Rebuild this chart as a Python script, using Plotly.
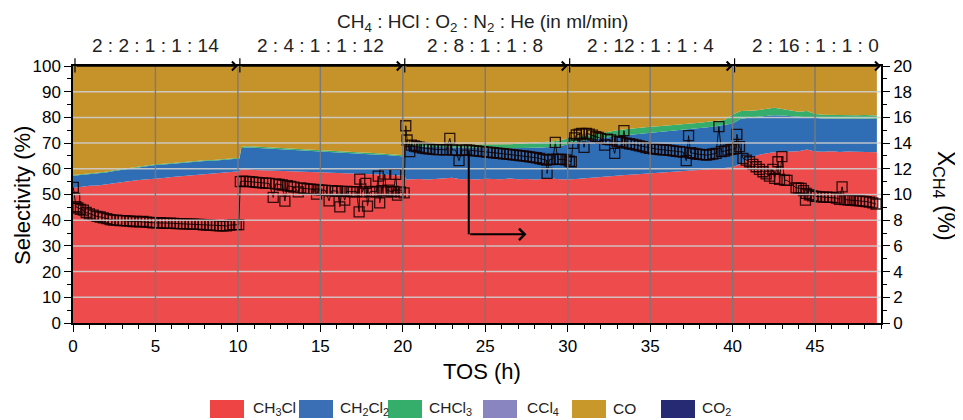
import plotly.graph_objects as go

# ---------------- data ----------------
t_area = [0.0, 0.5, 1.0, 1.5, 2.0, 2.5, 3.0, 3.5, 4.0, 4.5, 5.0, 5.5, 6.0, 6.5, 7.0, 7.5, 8.0, 8.5, 9.0, 9.5, 10.1,
          10.2, 10.5, 11.0, 11.5, 12.0, 12.5, 13.0, 13.5, 14.0, 14.5, 15.0, 15.5, 16.0, 16.5, 17.0, 17.5, 18.0, 18.5, 19.0, 19.5, 20.1,
          20.2, 20.5, 21.0, 21.5, 22.0, 22.5, 23.0, 23.5, 24.0, 24.5, 25.0, 25.5, 26.0, 26.5, 27.0, 27.5, 28.0, 28.5, 29.0, 29.5, 30.0,
          30.5, 31.0, 31.5, 32.0, 32.5, 33.0, 33.5, 34.0, 34.5, 35.0, 35.5, 36.0, 36.5, 37.0, 37.5, 38.0, 38.5, 39.0, 39.5, 40.0,
          40.5, 41.0, 41.5, 42.0, 42.5, 43.0, 43.5, 44.0, 44.5, 45.0, 45.5, 46.0, 46.5, 47.0, 47.5, 48.0, 48.5, 48.75]

sel_ch3cl = [52.5, 53.0, 53.4, 53.5, 54.0, 54.5, 55.0, 55.3, 55.6, 55.8, 56.1, 56.4, 56.8, 57.1, 57.3, 57.6, 57.9, 58.2, 58.5, 58.7, 59.0,
             59.8, 59.6, 59.5, 59.4, 59.3, 59.2, 59.1, 59.0, 58.9, 58.8, 58.7, 58.6, 58.5, 58.4, 58.3, 58.1, 58.0, 57.8, 57.7, 57.5, 57.3,
             55.8, 55.9, 56.0, 55.8, 56.0, 56.1, 56.5, 55.9, 56.0, 55.8, 56.1, 56.0, 55.9, 56.2, 55.9, 56.0, 55.8, 56.0, 56.2, 55.9, 55.8,
             56.0, 56.3, 56.5, 56.8, 57.0, 57.3, 57.6, 57.8, 58.0, 58.2, 58.5, 58.7, 58.9, 59.1, 59.3, 59.6, 59.8, 60.0, 60.3, 60.6,
             62.0, 64.0, 65.3, 66.0, 66.4, 66.5, 66.6, 66.8, 67.5, 66.7, 66.6, 66.8, 66.5, 66.7, 66.6, 66.5, 66.6, 66.4]

sel_ch2cl2 = [4.8, 4.6, 4.5, 4.6, 4.6, 4.6, 4.6, 4.7, 4.9, 5.2, 5.4, 5.3, 5.2, 5.2, 5.2, 5.1, 5.1, 4.9, 4.8, 4.9, 5.0,
              8.2, 8.7, 8.7, 8.6, 8.5, 8.4, 8.3, 8.2, 8.1, 8.1, 8.0, 7.9, 7.8, 7.8, 7.7, 7.7, 7.7, 7.7, 7.7, 7.7, 7.5,
              13.2, 12.9, 12.7, 12.8, 12.5, 12.3, 11.8, 12.3, 12.1, 12.2, 11.9, 11.9, 12.0, 11.8, 12.1, 12.1, 12.4, 12.3, 12.3, 12.9, 13.7,
              14.5, 14.7, 15.0, 15.2, 15.4, 15.5, 15.5, 15.6, 15.6, 15.7, 15.7, 15.8, 15.9, 16.1, 16.2, 16.2, 16.4, 16.6, 16.7, 17.0,
              17.5, 16.0, 15.0, 14.5, 14.4, 14.2, 13.9, 13.4, 12.5, 13.0, 13.0, 12.8, 13.0, 12.9, 12.9, 13.1, 12.9, 13.0]

sel_chcl3 = [0.3, 0.3, 0.3, 0.3, 0.3, 0.3, 0.3, 0.3, 0.3, 0.3, 0.3, 0.3, 0.3, 0.3, 0.3, 0.3, 0.3, 0.3, 0.3, 0.3, 0.3,
             0.5, 0.5, 0.5, 0.5, 0.5, 0.5, 0.5, 0.5, 0.5, 0.5, 0.5, 0.5, 0.5, 0.5, 0.5, 0.5, 0.5, 0.5, 0.5, 0.5, 0.5,
             0.8, 1.0, 1.1, 1.2, 1.2, 1.3, 1.3, 1.3, 1.4, 1.4, 1.5, 1.5, 1.6, 1.6, 1.7, 1.8, 1.9, 2.0, 2.1, 2.2, 2.3,
             1.7, 1.8, 1.9, 2.0, 2.1, 2.2, 2.3, 2.4, 2.5, 2.5, 2.4, 2.3, 2.3, 2.2, 2.2, 2.1, 2.1, 2.0, 2.0, 3.5,
             3.0, 2.6, 2.5, 2.8, 3.0, 2.6, 2.3, 2.0, 2.5, 1.6, 1.4, 1.3, 1.3, 1.3, 1.3, 1.3, 1.4, 1.3]

sel_ccl4 = [0.0] * 101

sel_co = [42.4, 42.1, 41.8, 41.6, 41.1, 40.6, 40.1, 39.7, 39.2, 38.7, 38.2, 38.0, 37.7, 37.4, 37.2, 37.0, 36.7, 36.6, 36.4, 36.1, 35.7,
          31.5, 31.2, 31.3, 31.5, 31.7, 31.9, 32.1, 32.3, 32.5, 32.6, 32.8, 33.0, 33.2, 33.3, 33.5, 33.7, 33.8, 34.0, 34.1, 34.3, 34.7,
          30.2, 30.2, 30.2, 30.2, 30.3, 30.3, 30.4, 30.5, 30.5, 30.6, 30.5, 30.6, 30.5, 30.4, 30.3, 30.1, 29.9, 29.7, 29.4, 29.0, 28.2,
          27.8, 27.2, 26.6, 26.0, 25.5, 25.0, 24.6, 24.2, 23.9, 23.6, 23.4, 23.2, 22.9, 22.6, 22.3, 22.1, 21.7, 21.4, 21.0, 18.9,
          17.5, 17.4, 17.2, 16.7, 16.2, 16.7, 17.2, 17.8, 17.5, 18.7, 19.0, 19.1, 19.2, 19.1, 19.2, 19.1, 19.1, 19.3]

sel_co2 = [0.0] * 101

# methane conversion (right axis, %)
t_x = [0.02, 0.1, 0.18, 0.3, 0.45, 0.63, 0.8, 1.0, 1.23, 1.45, 1.65, 1.84, 2.05, 2.25, 2.44, 2.65, 2.85, 3.05, 3.25, 3.45,
       3.65, 3.85, 4.06, 4.25, 4.45, 4.65, 4.85, 5.07, 5.3, 5.5, 5.7, 5.9, 6.1, 6.28, 6.5, 6.7, 6.9, 7.1, 7.29, 7.5,
       7.7, 7.9, 8.1, 8.3, 8.5, 8.7, 8.9, 9.1, 9.31, 9.5, 9.7, 9.9, 10.05,
       10.15, 10.3, 10.5, 10.7, 10.9, 11.1, 11.3, 11.5, 11.7, 11.9, 12.14, 12.3, 12.5, 12.7, 12.85, 13.0, 13.2, 13.4, 13.66, 13.8,
       14.0, 14.2, 14.4, 14.6, 14.77, 14.9, 15.1, 15.3, 15.53, 15.7, 15.9, 16.05, 16.18, 16.3, 16.48, 16.6, 16.8, 17.0, 17.2, 17.35,
       17.39, 17.55, 17.76, 17.86, 18.0, 18.2, 18.4, 18.51, 18.6, 18.75, 18.91, 19.0, 19.11, 19.3, 19.45, 19.57, 19.68, 19.85, 20.08,
       20.18, 20.26, 20.42, 20.52, 20.7, 20.83, 21.0, 21.2, 21.4, 21.6, 21.84, 22.05, 22.25, 22.45, 22.65, 22.85, 23.0, 23.2, 23.41,
       23.6, 23.86, 24.05, 24.25, 24.45, 24.65, 24.87, 25.1, 25.3, 25.5, 25.7, 25.88, 26.1, 26.3, 26.5, 26.7, 26.89, 27.1, 27.3,
       27.5, 27.7, 27.9, 28.1, 28.3, 28.5, 28.71, 28.75, 28.9, 29.1, 29.25, 29.4, 29.55, 29.72, 29.9,
       30.1, 30.22, 30.32, 30.42, 30.52, 30.7, 30.85, 30.99, 31.13, 31.3, 31.5, 31.7, 31.85, 32.0, 32.24, 32.4, 32.6, 32.85, 33.0,
       33.15, 33.3, 33.41, 33.55, 33.75, 33.95, 34.16, 34.35, 34.55, 34.75, 34.97, 35.2, 35.4, 35.6, 35.8, 35.98, 36.2, 36.4, 36.6,
       36.79, 37.0, 37.19, 37.33, 37.45, 37.6, 37.8, 38.0, 38.2, 38.4, 38.6, 38.8, 39.0, 39.17, 39.32, 39.5, 39.72, 39.9, 40.05,
       40.22, 40.26, 40.42, 40.63, 40.83, 41.03, 41.23, 41.43, 41.63, 41.84, 42.04, 42.24, 42.44, 42.55, 42.75, 42.85, 42.99, 43.15,
       43.3, 43.85, 44.0, 44.16, 44.3, 44.42, 44.46, 44.65, 44.85, 45.05, 45.27, 45.5, 45.7, 45.9, 46.08, 46.3, 46.48, 46.64, 46.8,
       47.0, 47.15, 47.3, 47.5, 47.7, 47.9, 48.1, 48.3, 48.5, 48.7]

x_ch4 = [10.55, 9.7, 9.05, 8.95, 8.85, 8.78, 8.6, 8.5, 8.39, 8.3, 8.25, 8.18, 8.12, 8.05, 8.0, 8.0, 7.97, 7.96, 7.95, 7.93,
         7.9, 7.9, 7.87, 7.9, 7.85, 7.83, 7.8, 7.79, 7.8, 7.78, 7.76, 7.77, 7.75, 7.74, 7.73, 7.72, 7.71, 7.7, 7.69, 7.68,
         7.67, 7.64, 7.62, 7.61, 7.6, 7.58, 7.57, 7.57, 7.56, 7.62, 7.65, 7.66, 7.65,
         11.0, 11.04, 11.02, 11.0, 10.98, 10.95, 10.92, 10.9, 10.88, 10.86, 9.77, 10.83, 10.78, 10.74, 9.49, 10.68, 10.63, 10.58, 10.21, 10.52,
         10.47, 10.44, 10.42, 10.4, 10.03, 10.36, 10.34, 10.32, 9.51, 10.3, 10.27, 10.26, 9.04, 10.25, 9.56, 10.24, 10.22, 10.21, 10.22, 8.65,
         11.2, 10.2, 10.86, 9.1, 10.2, 10.25, 10.2, 11.43, 9.35, 10.3, 11.59, 10.2, 10.34, 10.2, 10.25, 11.56, 9.95, 10.2, 10.13,
         15.35, 14.24, 13.33, 13.85, 13.78, 13.72, 13.68, 13.62, 13.58, 13.55, 13.51, 13.5, 13.5, 13.49, 13.48, 14.37, 13.47, 13.46, 12.63,
         13.46, 13.47, 13.45, 13.42, 13.4, 13.36, 13.33, 13.3, 13.28, 13.25, 13.22, 13.2, 13.17, 13.14, 13.12, 13.09, 13.07, 13.03, 13.0,
         12.96, 12.93, 12.89, 12.86, 12.8, 12.74, 12.68, 11.64, 12.72, 12.75, 14.06, 12.74, 12.73, 12.73, 12.7,
         12.6, 12.55, 13.98, 14.4, 14.63, 14.7, 14.75, 13.67, 14.76, 14.7, 14.62, 14.5, 14.45, 14.37, 13.85, 14.3, 14.25, 13.2, 14.15,
         14.11, 14.05, 14.97, 14.0, 13.95, 13.9, 13.85, 13.78, 13.72, 13.65, 13.59, 13.56, 13.53, 13.5, 13.48, 13.47, 13.43, 13.4, 13.36,
         13.33, 13.3, 12.63, 14.58, 13.25, 13.2, 13.15, 13.12, 13.1, 13.07, 13.1, 13.15, 13.2, 15.28, 13.33, 13.38, 13.46, 13.52, 13.55,
         13.59, 14.68, 13.72, 12.81, 12.68, 12.55, 12.35, 12.16, 11.95, 11.77, 11.6, 11.43, 11.95, 11.25, 12.55, 11.18, 12.94, 11.12,
         11.1, 10.52, 10.5, 10.47, 10.3, 9.56, 10.08, 9.98, 9.9, 9.85, 9.82, 9.8, 9.79, 9.78, 9.77, 9.72, 9.62, 10.6, 9.6,
         9.58, 9.57, 9.56, 9.53, 9.5, 9.48, 9.45, 9.4, 9.35, 9.26]

series_names = ["CH<sub>3</sub>Cl", "CH<sub>2</sub>Cl<sub>2</sub>", "CHCl<sub>3</sub>", "CCl<sub>4</sub>", "CO", "CO<sub>2</sub>"]
series_vals = [sel_ch3cl, sel_ch2cl2, sel_chcl3, sel_ccl4, sel_co, sel_co2]
fill_colors = ["#EE4C4C", "#2F6DB5", "#36AD6B", "#8A86C0", "#C5932A", "#262A72"]
legend_colors = ["#EF4444", "#3A6FB6", "#36AE6B", "#8985C0", "#C9982B", "#262A72"]

seg_starts = [0, 10, 20, 30, 40]
seg_ends = [10, 20, 30, 40, 49]
seg_labels = ["2 : 2 : 1 : 1 : 14", "2 : 4 : 1 : 1 : 12", "2 : 8 : 1 : 1 : 8", "2 : 12 : 1 : 1 : 4", "2 : 16 : 1 : 1 : 0"]
seg_label_x = [5, 15, 25, 35, 45]

FONT = "Liberation Sans, Arial, sans-serif"

# plot area in screen pixels (page has an 8 px body margin)
PL, PR, PT, PB = 73, 881, 66, 323
PW, PH = PR - PL, PB - PT


def px_x(px):
    return (px - PL) / PW


def px_y(py):
    return (PB - py) / PH


fig = go.Figure()
for name, vals, col in zip(series_names, series_vals, fill_colors):
    fig.add_trace(go.Scatter(x=t_area, y=vals, name=name, stackgroup="sel", mode="lines",
                             line=dict(width=0, color=col), fillcolor=col, showlegend=False,
                             hoverinfo="skip"))

fig.add_trace(go.Scatter(x=t_x, y=x_ch4, yaxis="y2", mode="lines+markers", showlegend=False,
                         line=dict(color="rgba(0,0,0,0.85)", width=1),
                         marker=dict(symbol="square-open", size=10, color="rgba(20,0,0,0.85)",
                                     line=dict(width=1.3))))

shapes = []
# grid lines drawn over the areas
for v in range(10, 100, 10):
    shapes.append(dict(type="line", xref="x", yref="y", x0=0, x1=49, y0=v, y1=v,
                       line=dict(color="rgba(205,205,205,0.9)", width=1.5), layer="above"))
for v in range(5, 49, 5):
    shapes.append(dict(type="line", xref="x", yref="y", x0=v, x1=v, y0=0, y1=100,
                       line=dict(color="rgba(120,120,120,0.95)", width=1.4), layer="above"))
# L-shaped pointer to right axis
shapes.append(dict(type="line", xref="x", yref="y2", x0=24, x1=24, y0=13.4, y1=6.9,
                   line=dict(color="black", width=2), layer="above"))
# segment start bars on top axis
for s in seg_starts:
    shapes.append(dict(type="line", xref="x", yref="paper", x0=s + 0.12, x1=s + 0.12, y0=0.975, y1=1.03,
                       line=dict(color="black", width=1.2)))

annotations = []
annotations.append(dict(x=27.5, y=6.9, ax=24, ay=6.9, xref="x", yref="y2", axref="x", ayref="y2",
                        text="", showarrow=True, arrowhead=4, arrowsize=1.1, arrowwidth=2, arrowcolor="black"))
for s, e, lab, lx in zip(seg_starts, seg_ends, seg_labels, seg_label_x):
    annotations.append(dict(x=e, y=100, ax=s + 0.12, ay=100, xref="x", yref="y", axref="x", ayref="y",
                            text="", showarrow=True, arrowhead=4, arrowsize=1.1, arrowwidth=1.6,
                            arrowcolor="black"))
    annotations.append(dict(x=lx, y=px_y(45), xref="x", yref="paper",
                            text=lab, showarrow=False, font=dict(size=19, color="#222"),
                            yanchor="middle"))
annotations.append(dict(x=px_x(482), y=px_y(23), xref="paper", yref="paper", showarrow=False,
                        text="CH<sub>4</sub> : HCl : O<sub>2</sub> : N<sub>2</sub> : He (in ml/min)",
                        font=dict(size=19, color="#222"), yanchor="middle"))
# axis titles
annotations.append(dict(x=px_x(482), y=px_y(371), xref="paper", yref="paper", showarrow=False,
                        text="TOS (h)", font=dict(size=22, color="black"), yanchor="middle"))
annotations.append(dict(x=px_x(22), y=px_y(196), xref="paper", yref="paper", showarrow=False,
                        text="Selectivity (%)", textangle=-90, font=dict(size=22, color="black"),
                        xanchor="center", yanchor="middle"))
annotations.append(dict(x=px_x(945), y=px_y(196), xref="paper", yref="paper", showarrow=False,
                        text="X<sub>CH4</sub> (%)", textangle=90, font=dict(size=23, color="black"),
                        xanchor="center", yanchor="middle"))

# manual legend at bottom
box_left_px = [210, 299, 388, 483, 572, 661]
lab_left_px = [251, 338, 427, 525, 611, 700]
for bx, lx, name, col in zip(box_left_px, lab_left_px, series_names, legend_colors):
    shapes.append(dict(type="rect", xref="paper", yref="paper",
                       x0=px_x(bx), x1=px_x(bx + 34), y0=px_y(418), y1=px_y(400),
                       fillcolor=col, line=dict(width=0)))
    annotations.append(dict(x=px_x(lx), y=px_y(408), xref="paper", yref="paper",
                            text=name, showarrow=False, xanchor="left", yanchor="middle",
                            font=dict(size=15.5, color="#222")))

fig.update_layout(
    width=955, height=412,
    margin=dict(l=PL - 8, r=955 + 8 - PR, t=PT - 8, b=412 + 8 - PB),
    paper_bgcolor="white", plot_bgcolor="white",
    font=dict(family=FONT, color="black", size=17),
    showlegend=False,
    xaxis=dict(range=[0, 49], tickmode="linear", tick0=0, dtick=5, ticks="outside", ticklen=7,
               tickwidth=1.3, tickcolor="black", automargin=False,
               minor=dict(dtick=1, ticks="outside", ticklen=4, tickcolor="black", tickwidth=1),
               showline=True, linecolor="black", linewidth=1.5, mirror=True, showgrid=False,
               zeroline=False, tickfont=dict(size=17)),
    yaxis=dict(range=[0, 100], tickmode="linear", tick0=0, dtick=10, ticks="outside", ticklen=7,
               tickwidth=1.3, tickcolor="black", automargin=False,
               minor=dict(dtick=5, ticks="outside", ticklen=4, tickcolor="black", tickwidth=1),
               showline=True, linecolor="black", linewidth=1.5, showgrid=False, zeroline=False,
               tickfont=dict(size=17)),
    yaxis2=dict(range=[0, 20], overlaying="y", side="right", tickmode="linear", tick0=0, dtick=2,
                ticks="outside", ticklen=7, tickwidth=1.3, tickcolor="black", automargin=False,
                minor=dict(dtick=1, ticks="outside", ticklen=4, tickcolor="black", tickwidth=1),
                showline=True, linecolor="black", linewidth=1.5, showgrid=False, zeroline=False,
                tickfont=dict(size=17)),
    shapes=shapes,
    annotations=annotations,
)

fig.write_html("out.html")
